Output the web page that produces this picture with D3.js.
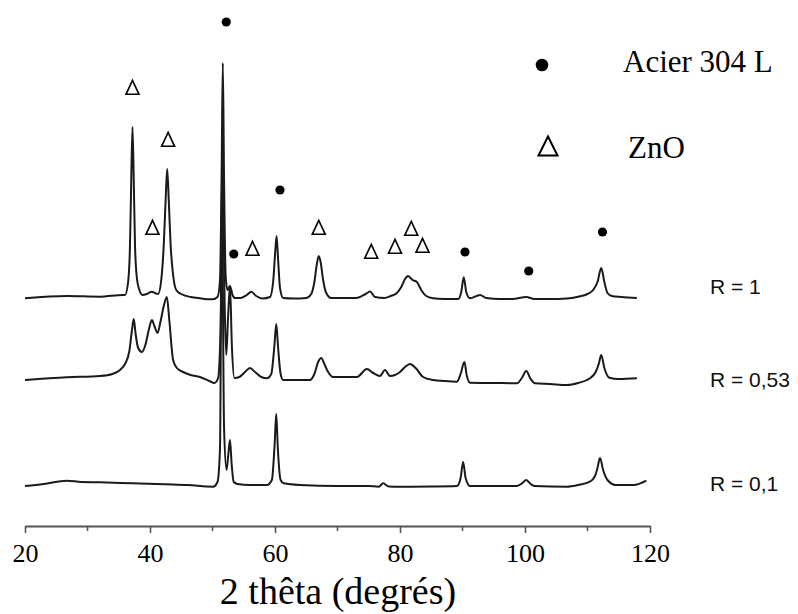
<!DOCTYPE html>
<html>
<head>
<meta charset="utf-8">
<script src="https://cdn.jsdelivr.net/npm/d3@7"></script>
<style>
  html, body { margin: 0; padding: 0; background: #fff; }
  svg { display: block; }
  .serif { font-family: 'Liberation Serif', 'Times New Roman', serif; }
  .sans { font-family: 'Liberation Sans', Arial, sans-serif; }
</style>
</head>
<body>
<svg id="chart" width="798" height="614"></svg>
<script>
// ---------- DATA ----------
const seriesNames = ["R = 1", "R = 0,53", "R = 0,1"];
const seriesOffsets = [226, 140, 38];   // vertical stacking offset (a.u.)

// [2θ, intensity (a.u.)]
const seriesR1 = [
  [20,1.7],[26.7,4],[32,3.3],[35.7,5],[36.0,5],[36.5,18],[36.8,55],[37.0,120],[37.2,173],[37.4,120],
  [37.6,55],[37.9,22],[38.3,10],[38.8,5],[39.5,6],[40.3,8.3],[40.8,7],[41.3,6],[41.8,20],[42.2,55],
  [42.5,100],[42.75,131],[43.0,100],[43.3,55],[43.7,25],[44.2,10],[45,6],[46.5,3],[48,1.7],[50,0.7],
  [50.8,3],[51.2,20],[51.45,120],[51.65,237],[51.85,120],[52.1,25],[52.4,10],[52.8,14],[53.2,5],[53.6,2],
  [54.5,2],[55.5,5],[56.2,8.3],[57,4],[58,1.5],[59.2,3],[59.7,18],[60.0,45],[60.25,64],[60.5,40],
  [60.8,12],[61.3,2],[63,1.5],[65,2],[65.8,6],[66.3,18],[66.7,36],[67.0,44],[67.3,38],[67.7,20],
  [68.2,7],[69,2],[71,2],[73,2],[74.5,6],[75.2,8.5],[76,3],[77.5,2],[78.5,4],[79.5,7],
  [80.2,13],[80.8,21],[81.3,24],[82.0,20],[82.7,18],[83.4,10],[84.2,4],[85.3,1.7],[87,1],[89.3,1],
  [89.8,8],[90.2,22.7],[90.6,8],[91.2,1.7],[92.8,5],[93.8,2],[96,1],[98,1],[100.2,3],[101.5,1],
  [104,1],[106.7,1.5],[108.5,3.3],[110,6],[110.9,10],[111.6,18],[112.2,32],[112.7,18],[113.2,7],[113.9,4],
  [115.4,3],[117.9,2]
];
const seriesR053 = [
  [20,6],[26.7,8.7],[32,10],[34,12],[35.2,16],[36.0,22],[36.7,35],[37.1,55],[37.4,67],[37.7,52],
  [38.1,38],[38.7,34],[39.3,42],[39.8,56],[40.3,66],[40.7,60],[41.2,53],[41.7,65],[42.2,80],[42.7,89],
  [43.1,65],[43.7,26],[44.3,18],[45.3,14],[46.5,11],[48,9],[49.5,5],[50.3,3],[50.9,8],[51.3,60],
  [51.6,246],[51.95,80],[52.2,31],[52.5,70],[52.8,100],[53.1,40],[53.5,8],[54.3,9],[55.2,14],[56.0,18],
  [56.8,14],[57.8,9],[58.7,7.7],[59.4,12],[59.9,40],[60.2,62],[60.5,38],[60.9,12],[61.3,6],[63,6],
  [65.6,6],[66.3,12],[66.9,24],[67.4,28],[67.9,22],[68.5,14],[69.3,9],[71,9],[73.1,9],[74.7,17],
  [75.7,13],[76.8,10],[77.6,16],[78.4,10],[79.2,11],[80,14],[80.8,19],[81.6,22],[82.5,18],[83.7,9],
  [85.3,6],[87,5],[89.1,4.3],[89.7,12],[90.3,24],[90.7,10],[91.2,3.3],[95,3],[98.7,2.7],[99.5,8],
  [100.2,15],[100.9,7],[101.6,2.7],[104,2],[106.7,1],[108.5,3],[110.4,7.7],[111.3,14],[111.8,22],[112.2,31],
  [112.7,18],[113.5,8.3],[115,7],[117.9,7.7]
];
const seriesR01 = [
  [20,2],[23,4],[26.7,7.3],[29,6],[32,5.7],[37.2,4.7],[42.5,3.7],[46,3],[50.1,1.3],[50.8,6],
  [51.2,40],[51.5,290],[51.85,60],[52.25,18],[52.55,35],[52.8,48],[53.05,25],[53.4,6],[54,4],[56,3],
  [58.7,3],[59.5,8],[59.95,45],[60.2,74],[60.45,40],[60.9,8],[61.4,4.7],[64,3],[70,2],[75,2],
  [76.6,1.3],[77.3,4.7],[78.2,1.5],[80,1.3],[85,1.5],[89.1,2],[89.7,10],[90.1,26],[90.5,10],[91.2,2],
  [98.7,2],[99.6,5],[100.2,8],[100.9,4],[101.5,2],[106.7,1.3],[108.5,3],[110.4,6.3],[111.2,12],[111.6,20],
  [112.0,30],[112.5,18],[113.2,8],[114.5,3],[117.4,3],[119.4,7.3]
];
const allSeries = [seriesR1, seriesR053, seriesR01];

// phase markers [2θ, level (a.u., stacked scale)]
const acierMarkers = [[52.2,504],[53.4,272],[60.8,336],[90.4,274],[100.6,255],[112.4,294]];
const znoMarkers = [[37.2,438],[42.9,386],[40.4,298],[56.4,277],[67.0,298],[75.4,274],[79.2,279],[81.8,297],[83.6,280]];

const xTicks = [20, 40, 60, 80, 100, 120];
const xMinorTicks = [30, 50, 70, 90, 110];
const xTitle = "2 thêta (degrés)";
const legendLabels = ["Acier 304 L", "ZnO"];

// ---------- CHART ----------
const svg = d3.select("#chart");

const x = d3.scaleLinear().domain([20, 120]).range([25, 650]);
const y = d3.scaleLinear().domain([0, 526]).range([526, 0]);
const axisY = 526;

// curves
const line = d3.line()
  .x(d => x(d[0]))
  .y(d => d.yv)
  .curve(d3.curveMonotoneX);

allSeries.forEach((s, i) => {
  const pts = s.map(d => { const p = [d[0], d[1]]; p.yv = y(seriesOffsets[i] + d[1]); return p; });
  svg.append("path")
    .attr("d", line(pts))
    .attr("fill", "none")
    .attr("stroke", "#1a1a1a")
    .attr("stroke-width", 2)
    .attr("stroke-linejoin", "round");
});

// series labels
const labelX = 710;
const labelBaselines = [294, 387, 491];
seriesNames.forEach((n, i) => {
  svg.append("text")
    .attr("class", "sans")
    .attr("x", labelX).attr("y", labelBaselines[i])
    .style("font-size", "21px")
    .attr("fill", "#111")
    .text(n);
});

// triangle path helper
function triPath(cx, cy, w, h) {
  return `M${cx},${cy - h * 0.55}L${cx + w / 2},${cy + h * 0.45}L${cx - w / 2},${cy + h * 0.45}Z`;
}

// markers
svg.selectAll("circle.acier").data(acierMarkers).enter().append("circle")
  .attr("class", "acier")
  .attr("cx", d => x(d[0])).attr("cy", d => y(d[1]))
  .attr("r", 4.6).attr("fill", "#000");

svg.selectAll("path.zno").data(znoMarkers).enter().append("path")
  .attr("class", "zno")
  .attr("d", d => triPath(x(d[0]), y(d[1]), 13, 14))
  .attr("fill", "#fff").attr("stroke", "#000").attr("stroke-width", 1.6);

// legend
svg.append("circle").attr("cx", 542).attr("cy", 65).attr("r", 6.3).attr("fill", "#000");
svg.append("text").attr("class", "serif").attr("x", 623).attr("y", 72)
  .style("font-size", "31px").attr("fill", "#000").text(legendLabels[0]);
svg.append("path").attr("d", triPath(548, 147, 19, 19))
  .attr("fill", "#fff").attr("stroke", "#000").attr("stroke-width", 2);
svg.append("text").attr("class", "serif").attr("x", 628).attr("y", 158)
  .style("font-size", "31px").attr("fill", "#000").text(legendLabels[1]);

// x axis
const gx = svg.append("g").attr("transform", `translate(0,${axisY})`);
gx.call(d3.axisBottom(x).tickValues(xTicks).tickSize(7).tickSizeOuter(0).tickFormat(d3.format("d")).tickPadding(11));
gx.attr("font-family", null).attr("font-size", null);
gx.select(".domain").attr("stroke", "#555").attr("stroke-width", 2);
gx.selectAll(".tick line").attr("stroke", "#555").attr("stroke-width", 1.6);
gx.selectAll(".tick text").attr("class", "serif").style("font-size", "26px").attr("fill", "#000");
const gm = svg.append("g").attr("transform", `translate(0,${axisY})`);
gm.selectAll("line").data(xMinorTicks).enter().append("line")
  .attr("x1", d => x(d)).attr("x2", d => x(d)).attr("y1", 0).attr("y2", 5)
  .attr("stroke", "#555").attr("stroke-width", 1.6);

svg.append("text")
  .attr("class", "serif")
  .attr("x", 338).attr("y", 604)
  .attr("text-anchor", "middle")
  .style("font-size", "38px").attr("fill", "#000")
  .text(xTitle);
</script>
</body>
</html>
